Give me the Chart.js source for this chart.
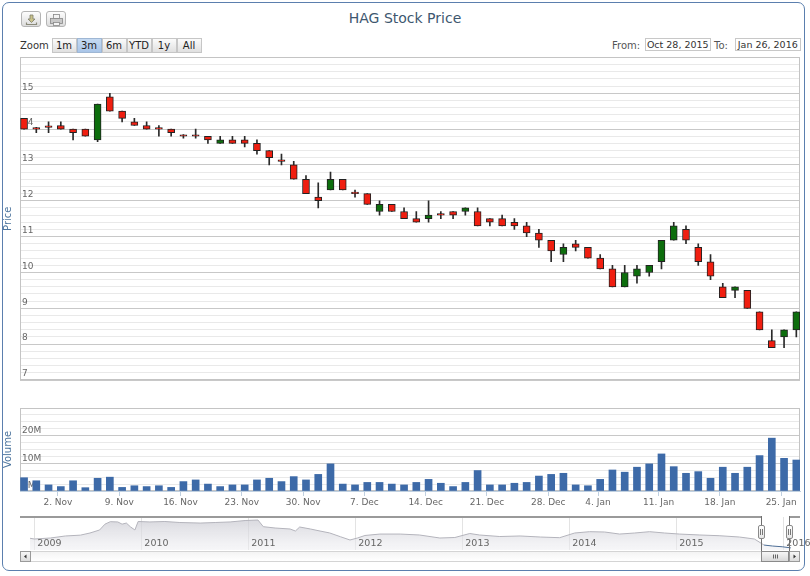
<!DOCTYPE html>
<html>
<head>
<meta charset="utf-8">
<script src="https://cdn.jsdelivr.net/npm/chart.js@4.4.0/dist/chart.umd.min.js"></script>
<style>
html,body{margin:0;padding:0;background:#fff;}
#wrap{position:relative;width:810px;height:576px;overflow:hidden;font-family:"DejaVu Sans",sans-serif;}
.frame{position:absolute;left:2px;top:2px;width:803px;height:569px;border:1.5px solid #5b7fae;border-radius:7px;box-sizing:border-box;}
canvas{position:absolute;left:0;}
.title{position:absolute;left:0;top:9px;width:810px;text-align:center;font-size:14px;color:#3E576F;line-height:18px;}
.exp{position:absolute;top:11px;width:20px;height:16px;box-sizing:border-box;border:1px solid #b4b4b4;border-radius:3px;background:linear-gradient(#fdfdfd,#dcdcdc);}
.exp svg{position:absolute;left:0;top:0;}
.lbl{position:absolute;font-size:10px;line-height:15px;color:#333;white-space:nowrap;}
.btn{position:absolute;top:37.5px;width:25px;height:15px;box-sizing:border-box;border:1px solid #c6c6c6;background:linear-gradient(#fbfbfb,#e0e0e0);font-size:10px;line-height:13px;text-align:center;color:#222;}
.btn.sel{background:linear-gradient(#c5daf2,#a9c5e8);border-color:#9fb7d4;}
.box{position:absolute;top:38px;height:13px;box-sizing:border-box;border:1px solid #c8c8c8;font-size:9.5px;line-height:11px;text-align:center;color:#333;background:#fff;white-space:nowrap;overflow:hidden;}
.ov{position:absolute;}
.hdl{position:absolute;top:525px;width:7px;height:14px;box-sizing:border-box;border:1px solid #8a8a8a;border-radius:2px;background:linear-gradient(#ffffff,#e6e6e6);}
.hdl:before,.hdl:after{content:"";position:absolute;top:3px;width:1px;height:6px;background:#777;}
.hdl:before{left:1.5px;}
.hdl:after{left:3.5px;}
.sbtn{position:absolute;top:551px;width:11px;height:11px;box-sizing:border-box;border:1px solid #9a9a9a;background:linear-gradient(#f6f6f6,#dcdcdc);}
</style>
</head>
<body>
<div id="wrap">
  <div class="frame"></div>
  <div class="exp" style="left:20.5px">
    <svg width="20" height="16" viewBox="0 0 20 16">
      <path d="M4.5 10.5 V12.5 H14.5 V10.5" fill="none" stroke="#8a8a7a" stroke-width="1.2"/>
      <path d="M8 3 H11 V7 H13 L9.5 10.5 L6 7 H8 Z" fill="#c9c28a" stroke="#7d7d6a" stroke-width="0.8"/>
    </svg>
  </div>
  <div class="exp" style="left:45.5px">
    <svg width="20" height="16" viewBox="0 0 20 16">
      <rect x="6.5" y="2.5" width="6" height="4" fill="#f4f4f4" stroke="#888" stroke-width="0.8"/>
      <rect x="3.5" y="6.5" width="12" height="5" fill="#c8c8c8" stroke="#888" stroke-width="0.8"/>
      <rect x="6.5" y="10.5" width="6" height="3" fill="#f4f4f4" stroke="#888" stroke-width="0.8"/>
    </svg>
  </div>
  <div class="title">HAG Stock Price</div>
  <div class="lbl" style="left:20px;top:37.5px;">Zoom</div>
  <div id="zoomBtns"></div>
  <div class="lbl" style="left:612px;top:37.5px;color:#555;">From:</div>
  <div class="box" style="left:644.5px;width:66.5px;">Oct 28, 2015</div>
  <div class="lbl" style="left:714px;top:37.5px;color:#555;">To:</div>
  <div class="box" style="left:735px;width:65.5px;">Jan 26, 2016</div>

  <canvas id="priceChart" style="top:50px" width="810" height="340"></canvas>
  <canvas id="volChart" style="top:398px" width="810" height="117"></canvas>
  <canvas id="navChart" style="top:505px" width="810" height="60"></canvas>

  <!-- navigator outline, handles and scrollbar -->
  <div class="ov" style="left:20px;top:516px;width:741px;height:1.6px;background:#9a9a9a;"></div>
  <div class="ov" style="left:789px;top:516px;width:11px;height:1.6px;background:#9a9a9a;"></div>
  <div class="ov" style="left:760.5px;top:516px;width:1.3px;height:35px;background:#6f6f6f;"></div>
  <div class="ov" style="left:788.5px;top:516px;width:1.3px;height:35px;background:#6f6f6f;"></div>
  <div class="ov" style="left:20px;top:551px;width:780px;height:11px;box-sizing:border-box;border-top:1px solid #d4d4d4;border-bottom:1px solid #d4d4d4;background:linear-gradient(#f4f4f4,#ffffff);"></div>
  <div class="sbtn" style="left:20px;"><svg width="9" height="9" style="position:absolute;left:0;top:0"><path d="M5.5 2.5 L3 4.5 L5.5 6.5 Z" fill="#333"/></svg></div>
  <div class="ov" style="left:761px;top:551px;width:28px;height:11px;box-sizing:border-box;border:1px solid #8a8a8a;background:linear-gradient(#f6f6f6,#d8d8d8);"><svg width="26" height="9" style="position:absolute;left:0;top:0"><path d="M11.5 2.5 V6.5 M13.5 2.5 V6.5 M15.5 2.5 V6.5" stroke="#555" stroke-width="0.9"/></svg></div>
  <div class="sbtn" style="left:789px;"><svg width="9" height="9" style="position:absolute;left:0;top:0"><path d="M3.5 2.5 L6 4.5 L3.5 6.5 Z" fill="#333"/></svg></div>
  <div class="hdl" style="left:757.5px;"></div>
  <div class="hdl" style="left:785.5px;"></div>
</div>

<script>
// ---------------- data ----------------
const zoomLabels = ['1m', '3m', '6m', 'YTD', '1y', 'All'];
const zoomSelected = '3m';

const tradingDays = [
  '2015-10-28','2015-10-29','2015-10-30',
  '2015-11-02','2015-11-03','2015-11-04','2015-11-05','2015-11-06',
  '2015-11-09','2015-11-10','2015-11-11','2015-11-12','2015-11-13',
  '2015-11-16','2015-11-17','2015-11-18','2015-11-19','2015-11-20',
  '2015-11-23','2015-11-24','2015-11-25','2015-11-26','2015-11-27',
  '2015-11-30','2015-12-01','2015-12-02','2015-12-03','2015-12-04',
  '2015-12-07','2015-12-08','2015-12-09','2015-12-10','2015-12-11',
  '2015-12-14','2015-12-15','2015-12-16','2015-12-17','2015-12-18',
  '2015-12-21','2015-12-22','2015-12-23','2015-12-24','2015-12-25',
  '2015-12-28','2015-12-29','2015-12-30','2015-12-31',
  '2016-01-04','2016-01-05','2016-01-06','2016-01-07','2016-01-08',
  '2016-01-11','2016-01-12','2016-01-13','2016-01-14','2016-01-15',
  '2016-01-18','2016-01-19','2016-01-20','2016-01-21','2016-01-22',
  '2016-01-25','2016-01-26'
];

const openP = [14.3,14.0,14.05,14.1,14.0,14.0,13.7,14.9,14.5,14.2,
  14.1,14.0,14.0,13.8,13.8,13.8,13.6,13.7,13.7,13.6,
  13.4,13.1,13.0,12.6,12.1,12.3,12.6,12.2,12.2,11.7,
  11.9,11.7,11.5,11.5,11.6,11.7,11.7,11.7,11.5,11.5,
  11.4,11.3,11.1,10.9,10.5,10.8,10.7,10.4,10.1,9.6,
  9.9,10.0,10.3,10.9,11.2,10.7,10.3,9.6,9.5,9.5,
  8.9,8.1,8.2,8.4];
const highP = [14.3,14.05,14.2,14.2,14.0,14.0,14.7,15.0,14.5,14.3,
  14.2,14.1,14.0,13.85,14.0,13.8,13.8,13.8,13.8,13.7,
  13.4,13.3,13.1,12.7,12.5,12.8,12.6,12.3,12.2,12.0,
  11.9,11.8,11.7,12.0,11.7,11.7,11.8,11.8,11.5,11.6,
  11.5,11.4,11.2,10.9,10.8,10.9,10.7,10.5,10.2,10.2,
  10.2,10.2,10.9,11.4,11.3,10.8,10.5,9.7,9.6,9.5,
  8.9,8.4,8.4,8.9];
const lowP = [14.0,13.9,13.9,14.0,13.7,13.8,13.65,14.5,14.2,14.1,
  14.0,13.8,13.8,13.75,13.75,13.6,13.6,13.6,13.5,13.3,
  13.0,13.0,12.6,12.2,11.8,12.3,12.3,12.1,11.9,11.6,
  11.7,11.5,11.4,11.4,11.5,11.5,11.6,11.3,11.3,11.3,
  11.2,11.0,10.7,10.3,10.3,10.6,10.4,10.1,9.6,9.6,
  9.7,9.9,10.1,10.9,10.8,10.2,9.8,9.3,9.3,9.0,
  8.4,7.9,7.9,8.2];
const closeP = [14.0,14.0,14.05,14.0,13.9,13.8,14.7,14.5,14.3,14.1,
  14.0,14.0,13.9,13.8,13.8,13.7,13.7,13.6,13.6,13.4,
  13.2,13.1,12.6,12.2,12.0,12.6,12.3,12.2,11.9,11.9,
  11.7,11.5,11.4,11.6,11.6,11.6,11.8,11.3,11.4,11.3,
  11.3,11.1,10.9,10.6,10.7,10.7,10.4,10.1,9.6,10.0,
  10.1,10.2,10.9,11.3,10.9,10.3,9.9,9.3,9.6,9.0,
  8.4,7.9,8.4,8.9];

// volume in millions of shares
const volumeM = [4.8,3.7,2.2,1.6,3.7,1.2,4.6,5.0,1.3,1.9,
  1.6,1.9,1.3,3.4,4.0,2.5,1.6,2.2,2.2,4.0,
  4.6,3.4,5.2,4.0,6.0,9.8,2.5,2.2,3.1,3.1,
  2.5,2.2,3.1,4.2,2.8,1.6,3.1,7.4,2.2,2.2,
  2.8,3.1,5.4,6.0,6.4,2.2,1.9,4.2,7.6,6.8,
  8.6,9.8,13.4,8.8,6.4,7.0,4.6,8.6,6.4,8.6,
  12.8,19.1,11.8,11.2];

const monthNames = ['Jan','Feb','Mar','Apr','May','Jun','Jul','Aug','Sep','Oct','Nov','Dec'];

// navigator: full price history (fractional year, price)
const navYears = [2008.96,2009.0,2009.15,2009.29,2009.43,2009.52,2009.61,2009.66,2009.71,2009.78,
  2009.82,2009.86,2009.90,2009.94,2009.97,2010.08,2010.22,2010.36,2010.55,2010.69,
  2010.83,2010.97,2011.09,2011.14,2011.25,2011.39,2011.44,2011.48,2011.58,2011.67,
  2011.76,2011.86,2011.95,2012.02,2012.09,2012.23,2012.42,2012.60,2012.79,2012.93,
  2013.07,2013.16,2013.35,2013.54,2013.73,2013.91,2014.05,2014.19,2014.33,2014.47,
  2014.61,2014.75,2014.89,2015.03,2015.22,2015.40,2015.59,2015.73,2015.82,2015.90,
  2015.99,2016.07];
const navPrice = [26.3,25.0,26.8,30.5,32.0,35.9,41.4,52.0,56.5,56.0,
  52.0,54.0,46.8,41.4,56.8,56.0,56.8,55.0,54.0,55.0,
  56.0,58.6,59.5,47.4,45.0,43.2,39.5,46.8,43.2,39.5,
  36.0,29.2,23.2,26.8,31.4,34.0,34.0,32.3,26.8,27.7,
  35.0,32.3,29.5,30.5,28.6,27.4,35.9,38.3,37.7,34.0,
  35.9,38.3,35.9,34.0,32.3,31.0,28.6,25.0,14.0,12.2,
  10.9,8.9];
const navYearTicks = [2009,2010,2011,2012,2013,2014,2015,2016];
const navSelectedFrom = 2015.82;

// ---------------- helpers ----------------
Chart.defaults.font.family = '"DejaVu Sans", sans-serif';
Chart.defaults.animation = false;

const zb = document.getElementById('zoomBtns');
zoomLabels.forEach((t, i) => {
  const d = document.createElement('div');
  d.className = 'btn' + (t === zoomSelected ? ' sel' : '');
  d.style.left = (51.5 + 25 * i) + 'px';
  d.textContent = t;
  zb.appendChild(d);
});

const dayNum = s => Date.parse(s + 'T00:00:00Z') / 864e5;
const pointTime = tradingDays.map(s => dayNum(s) + 17 / 24);
const weekTicks = [];
tradingDays.forEach((s, i) => {
  const d = new Date(s + 'T00:00:00Z');
  if (i > 0 && d.getUTCDay() === 1) {
    const t = dayNum(s);
    const pos = (i - 1) + (t - pointTime[i - 1]) / (pointTime[i] - pointTime[i - 1]);
    weekTicks.push({ value: pos, label: d.getUTCDate() + '. ' + monthNames[d.getUTCMonth()] });
  }
});

const idx = tradingDays.map((_, i) => i);
const UP = '#0d6e0d', DOWN = '#f01e10';
const candleColors = idx.map(i => closeP[i] > openP[i] ? UP : DOWN);

const plotBorder = {
  id: 'plotBorder',
  beforeDatasetsDraw(chart, args, opts) {
    const { ctx, chartArea: a } = chart;
    ctx.save();
    ctx.strokeStyle = opts.color || '#c0c0c0';
    ctx.lineWidth = 1;
    ctx.strokeRect(Math.round(a.left) + 0.5, Math.round(a.top) + 0.5, Math.round(a.width) - 1, Math.round(a.height) - 1);
    ctx.restore();
  }
};

// year labels of the navigator axis, drawn inside the plot over the area
const navYearLabels = {
  id: 'navYearLabels',
  afterDatasetsDraw(chart) {
    const { ctx, chartArea: a } = chart;
    const xs = chart.scales.x;
    ctx.save();
    ctx.fillStyle = '#666';
    ctx.font = '9.5px "DejaVu Sans", sans-serif';
    ctx.textAlign = 'left';
    ctx.textBaseline = 'middle';
    navYearTicks.forEach(v => ctx.fillText(String(v), xs.getPixelForValue(v) + 3, a.bottom - 6));
    ctx.restore();
  }
};

const X_MIN = -0.33, X_MAX = 63.3;
const isMult = (v, step) => Math.abs(v / step - Math.round(v / step)) < 1e-6;

// ---------------- price chart ----------------
new Chart(document.getElementById('priceChart'), {
  type: 'bar',
  plugins: [plotBorder],
  data: {
    datasets: [
      {
        label: 'wick',
        data: idx.map(i => ({ x: i, y: [lowP[i], highP[i]] })),
        backgroundColor: '#2a2a2a',
        borderWidth: 0,
        barThickness: 1,
        grouped: false,
        order: 2
      },
      {
        label: 'HAG',
        data: idx.map(i => ({ x: i, y: [openP[i], closeP[i]] })),
        backgroundColor: candleColors,
        borderColor: '#222',
        borderWidth: 1,
        borderSkipped: false,
        barThickness: 7,
        minBarLength: 1.5,
        grouped: false,
        order: 1
      }
    ]
  },
  options: {
    responsive: false,
    layout: { padding: { top: 7, bottom: 10, left: 0, right: 10 } },
    plugins: { legend: { display: false }, tooltip: { enabled: false }, plotBorder: { color: '#c4c4c4' } },
    scales: {
      x: { type: 'linear', min: X_MIN, max: X_MAX, offset: false, display: false, grid: { offset: false } },
      y: {
        min: 7, max: 16,
        afterFit: s => { s.width = 20; },
        border: { display: false },
        grid: {
          drawTicks: false,
          color: c => isMult(c.tick.value, 1) ? '#c8c8c8' : '#e9e9e9',
          lineWidth: 1
        },
        title: { display: true, text: 'Price', color: '#4d759e', font: { size: 10 }, padding: { top: 2, bottom: 0 } },
        ticks: {
          stepSize: 0.2,
          autoSkip: false,
          mirror: true,
          padding: 2,
          labelOffset: -6,
          color: '#666',
          font: { size: 9 },
          callback: v => (isMult(v, 1) && v < 16) ? String(Math.round(v)) : ''
        }
      }
    }
  }
});

// ---------------- volume chart ----------------
new Chart(document.getElementById('volChart'), {
  type: 'bar',
  plugins: [plotBorder],
  data: {
    datasets: [{
      label: 'Volume',
      data: idx.map(i => ({ x: i, y: volumeM[i] })),
      backgroundColor: '#3d6aa8',
      borderWidth: 0,
      barThickness: 7
    }]
  },
  options: {
    responsive: false,
    layout: { padding: { top: 10, bottom: 0, left: 0, right: 10 } },
    plugins: { legend: { display: false }, tooltip: { enabled: false }, plotBorder: { color: '#c4c4c4' } },
    scales: {
      x: {
        type: 'linear', min: X_MIN, max: X_MAX, offset: false,
        afterBuildTicks: s => { s.ticks = weekTicks.map(t => ({ value: t.value })); },
        afterFit: s => { s.height = 24; },
        grid: { drawOnChartArea: false, drawTicks: true, tickLength: 5, color: '#C0D0E0', offset: false },
        border: { display: true, color: '#C0D0E0' },
        ticks: {
          autoSkip: false, maxRotation: 0, minRotation: 0, padding: 1,
          color: '#666', font: { size: 9 },
          callback: (v, i) => weekTicks[i] ? weekTicks[i].label : ''
        }
      },
      y: {
        min: 0, max: 30,
        afterFit: s => { s.width = 20; },
        border: { display: false },
        grid: {
          drawTicks: false,
          color: c => isMult(c.tick.value, 10) ? '#c8c8c8' : '#e9e9e9'
        },
        title: { display: true, text: 'Volume', color: '#4d759e', font: { size: 10 }, padding: { top: 2, bottom: 0 } },
        ticks: {
          stepSize: 2.5,
          autoSkip: false,
          mirror: true,
          padding: 2,
          labelOffset: -5,
          color: '#666',
          font: { size: 9 },
          callback: v => (isMult(v, 10) && v < 30) ? Math.round(v) + 'M' : ''
        }
      }
    }
  }
});

// ---------------- navigator ----------------
new Chart(document.getElementById('navChart'), {
  type: 'line',
  plugins: [navYearLabels],
  data: {
    datasets: [{
      label: 'nav',
      data: navYears.map((y, i) => ({ x: y, y: navPrice[i] })),
      borderColor: '#b4b4bc',
      borderWidth: 1,
      pointRadius: 0,
      tension: 0,
      fill: 'start',
      segment: {
        borderColor: c => c.p0.parsed.x >= navSelectedFrom - 1e-9 ? '#4d6e96' : '#b4b4bc'
      },
      backgroundColor: c => {
        const a = c.chart.chartArea;
        if (!a) return 'rgba(200,200,208,0.6)';
        const g = c.chart.ctx.createLinearGradient(0, a.top, 0, a.bottom);
        g.addColorStop(0, 'rgba(200,200,208,0.75)');
        g.addColorStop(1, 'rgba(238,238,242,0.5)');
        return g;
      }
    }]
  },
  options: {
    responsive: false,
    layout: { padding: { top: 12, bottom: 15, left: 20, right: 10 } },
    plugins: { legend: { display: false }, tooltip: { enabled: false } },
    scales: {
      x: {
        type: 'linear', min: 2008.866, max: 2016.156,
        afterBuildTicks: s => { s.ticks = navYearTicks.map(v => ({ value: v })); },
        afterFit: s => { s.height = 0; },
        grid: { drawTicks: false, color: 'rgba(200,200,200,0.5)' },
        border: { display: false },
        ticks: { display: false }
      },
      y: { display: false, min: 5, max: 65 }
    }
  }
});
</script>
</body>
</html>
